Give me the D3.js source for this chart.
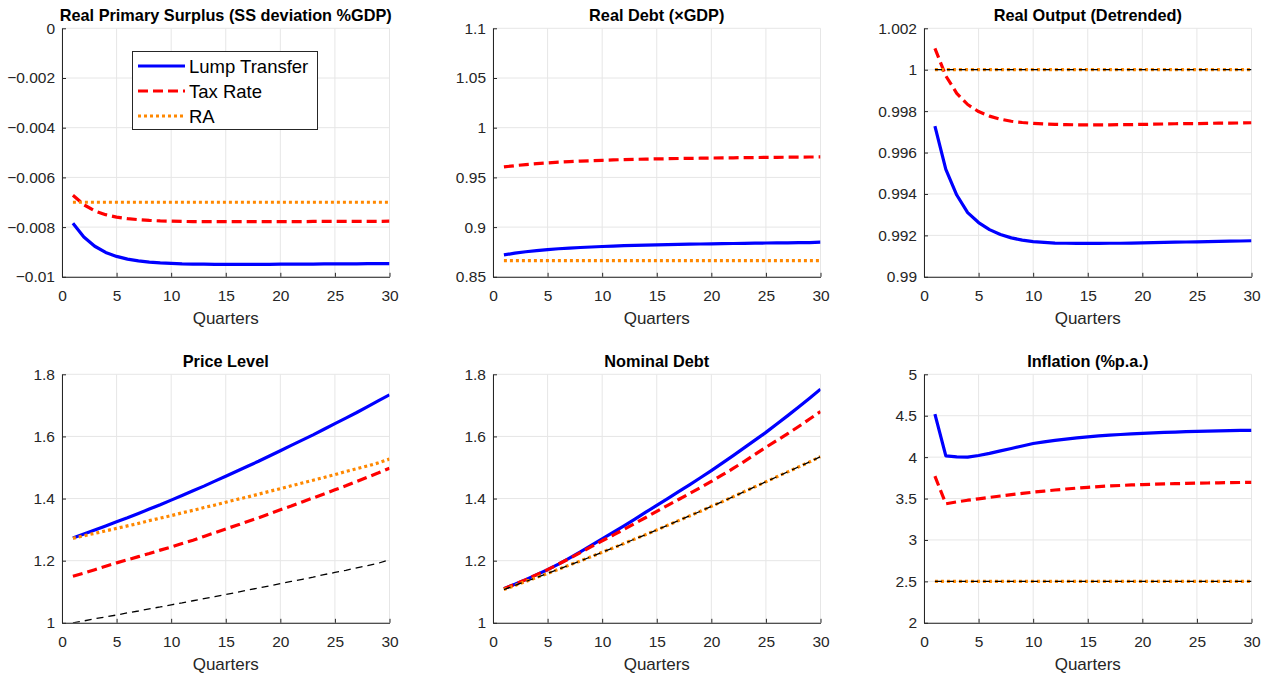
<!DOCTYPE html>
<html><head><meta charset="utf-8">
<script src="https://cdn.jsdelivr.net/npm/d3@7"></script>
<style>
body{margin:0;background:#fff}
svg{display:block}
text{font-family:"Liberation Sans",Arial,Helvetica,sans-serif}
</style>
</head><body>
<svg id="chart" width="1271" height="677"></svg>
<script>
// ---------- DATA ----------
const quarters = [1,2,3,4,5,6,7,8,9,10,11,12,13,14,15,16,17,18,19,20,21,22,23,24,25,26,27,28,29,30];
const xTicks = [0,5,10,15,20,25,30];

// Real Primary Surplus (SS deviation %GDP)
const surplusLump = [-0.00785,-0.00840,-0.00877,-0.00902,-0.00918,-0.00929,-0.00936,-0.00941,-0.00944,-0.00946,-0.00948,-0.00949,-0.00949,-0.00950,-0.00950,-0.00950,-0.00950,-0.00950,-0.00950,-0.00949,-0.00949,-0.00949,-0.00949,-0.00948,-0.00948,-0.00948,-0.00948,-0.00947,-0.00947,-0.00947];
const surplusTax = [-0.00672,-0.00710,-0.00735,-0.00750,-0.00760,-0.00766,-0.00770,-0.00773,-0.00775,-0.00776,-0.00777,-0.00778,-0.00778,-0.00778,-0.00778,-0.00778,-0.00778,-0.00778,-0.00778,-0.00778,-0.00778,-0.00778,-0.00777,-0.00777,-0.00777,-0.00777,-0.00777,-0.00777,-0.00777,-0.00776];
const surplusRA = [-0.007,-0.007,-0.007,-0.007,-0.007,-0.007,-0.007,-0.007,-0.007,-0.007,-0.007,-0.007,-0.007,-0.007,-0.007,-0.007,-0.007,-0.007,-0.007,-0.007,-0.007,-0.007,-0.007,-0.007,-0.007,-0.007,-0.007,-0.007,-0.007,-0.007];
const surplusTicks = [-0.01,-0.008,-0.006,-0.004,-0.002,0];
const surplusTickLabels = ["\u22120.01","\u22120.008","\u22120.006","\u22120.004","\u22120.002","0"];

// Real Debt (xGDP)
const debtLump = [0.8720,0.8738,0.8752,0.8764,0.8774,0.8782,0.8789,0.8795,0.8800,0.8805,0.8809,0.8813,0.8816,0.8819,0.8822,0.8824,0.8826,0.8828,0.8830,0.8832,0.8834,0.8835,0.8837,0.8838,0.8840,0.8841,0.8842,0.8843,0.8844,0.8848];
const debtTax = [0.9605,0.9618,0.9629,0.9638,0.9646,0.9653,0.9659,0.9664,0.9668,0.9672,0.9676,0.9679,0.9682,0.9684,0.9686,0.9688,0.9690,0.9692,0.9693,0.9695,0.9696,0.9697,0.9699,0.9700,0.9701,0.9702,0.9703,0.9704,0.9705,0.9706];
const debtRA = [0.8662,0.8662,0.8662,0.8662,0.8662,0.8662,0.8662,0.8662,0.8662,0.8662,0.8662,0.8662,0.8662,0.8662,0.8662,0.8662,0.8662,0.8662,0.8662,0.8662,0.8662,0.8662,0.8662,0.8662,0.8662,0.8662,0.8662,0.8662,0.8662,0.8662];
const debtTicks = [0.85,0.9,0.95,1,1.05,1.1];
const debtTickLabels = ["0.85","0.9","0.95","1","1.05","1.1"];

// Real Output (Detrended)
const outputLump = [0.99728,0.99519,0.99395,0.99310,0.99262,0.99228,0.99204,0.99188,0.99177,0.99170,0.99166,0.99163,0.99162,0.99161,0.99161,0.99161,0.99162,0.99162,0.99163,0.99164,0.99165,0.99166,0.99167,0.99168,0.99169,0.99170,0.99171,0.99172,0.99173,0.99174];
const outputTax = [1.00103,0.99970,0.99886,0.99832,0.99798,0.99776,0.99761,0.99751,0.99745,0.99741,0.99738,0.99736,0.99735,0.99734,0.99734,0.99734,0.99734,0.99735,0.99735,0.99736,0.99737,0.99738,0.99739,0.99740,0.99740,0.99741,0.99742,0.99742,0.99743,0.99744];
const outputRA = [1,1,1,1,1,1,1,1,1,1,1,1,1,1,1,1,1,1,1,1,1,1,1,1,1,1,1,1,1,1];
const outputSS = [1,1,1,1,1,1,1,1,1,1,1,1,1,1,1,1,1,1,1,1,1,1,1,1,1,1,1,1,1,1];
const outputTicks = [0.99,0.992,0.994,0.996,0.998,1,1.002];
const outputTickLabels = ["0.99","0.992","0.994","0.996","0.998","1","1.002"];

// Price Level
const priceLump = [1.273,1.286,1.299,1.312,1.325,1.338,1.352,1.366,1.380,1.395,1.410,1.425,1.440,1.456,1.472,1.488,1.504,1.520,1.537,1.554,1.571,1.588,1.605,1.623,1.641,1.659,1.677,1.696,1.715,1.734];
const priceTax = [1.150,1.160,1.171,1.182,1.193,1.203,1.213,1.223,1.234,1.244,1.255,1.266,1.278,1.290,1.302,1.314,1.326,1.338,1.351,1.364,1.376,1.389,1.402,1.415,1.428,1.441,1.455,1.469,1.483,1.498];
const priceRA = [1.272,1.280,1.288,1.296,1.304,1.312,1.320,1.329,1.337,1.345,1.354,1.362,1.371,1.379,1.388,1.397,1.405,1.414,1.423,1.432,1.441,1.450,1.459,1.468,1.477,1.487,1.496,1.505,1.515,1.527];
const priceSS = [1.000,1.006,1.013,1.019,1.025,1.032,1.038,1.045,1.051,1.058,1.064,1.071,1.078,1.084,1.091,1.098,1.105,1.112,1.119,1.126,1.133,1.140,1.147,1.155,1.162,1.169,1.177,1.184,1.192,1.203];
const priceTicks = [1,1.2,1.4,1.6,1.8];
const priceTickLabels = ["1","1.2","1.4","1.6","1.8"];

// Nominal Debt
const nomLump = [1.110,1.124,1.139,1.155,1.171,1.189,1.208,1.228,1.249,1.270,1.291,1.312,1.334,1.356,1.378,1.400,1.422,1.444,1.467,1.490,1.514,1.538,1.563,1.588,1.613,1.640,1.667,1.695,1.723,1.752];
const nomTax = [1.110,1.124,1.139,1.155,1.171,1.189,1.207,1.226,1.245,1.264,1.282,1.301,1.320,1.339,1.359,1.378,1.397,1.416,1.435,1.455,1.476,1.497,1.519,1.542,1.565,1.587,1.609,1.632,1.656,1.680];
const nomRA = [1.107,1.120,1.133,1.146,1.159,1.172,1.186,1.199,1.213,1.227,1.241,1.255,1.270,1.284,1.299,1.314,1.329,1.344,1.359,1.375,1.390,1.406,1.422,1.438,1.454,1.470,1.486,1.502,1.518,1.535];
const nomSS = [1.107,1.120,1.133,1.146,1.159,1.172,1.186,1.199,1.213,1.227,1.241,1.255,1.270,1.284,1.299,1.314,1.329,1.344,1.359,1.375,1.390,1.406,1.422,1.438,1.454,1.470,1.486,1.502,1.518,1.535];
const nomTicks = [1,1.2,1.4,1.6,1.8];
const nomTickLabels = ["1","1.2","1.4","1.6","1.8"];

// Inflation (%p.a.)
const inflLump = [4.52,4.015,4.003,4.000,4.020,4.045,4.075,4.105,4.135,4.165,4.185,4.203,4.218,4.232,4.245,4.256,4.265,4.273,4.280,4.287,4.293,4.298,4.303,4.307,4.311,4.314,4.317,4.320,4.322,4.324];
const inflTax = [3.77,3.437,3.460,3.480,3.497,3.514,3.531,3.547,3.562,3.577,3.590,3.603,3.615,3.626,3.636,3.645,3.652,3.658,3.664,3.669,3.673,3.677,3.680,3.683,3.686,3.688,3.690,3.692,3.694,3.695];
const inflRA = [2.5,2.5,2.5,2.5,2.5,2.5,2.5,2.5,2.5,2.5,2.5,2.5,2.5,2.5,2.5,2.5,2.5,2.5,2.5,2.5,2.5,2.5,2.5,2.5,2.5,2.5,2.5,2.5,2.5,2.5];
const inflSS = [2.5,2.5,2.5,2.5,2.5,2.5,2.5,2.5,2.5,2.5,2.5,2.5,2.5,2.5,2.5,2.5,2.5,2.5,2.5,2.5,2.5,2.5,2.5,2.5,2.5,2.5,2.5,2.5,2.5,2.5];
const inflTicks = [2,2.5,3,3.5,4,4.5,5];
const inflTickLabels = ["2","2.5","3","3.5","4","4.5","5"];

const legendLabels = ["Lump Transfer","Tax Rate","RA"];
const xLabel = "Quarters";

// ---------- STYLES ----------
const styles = {
  lump: {stroke:"#0000ff", width:3.2, dash:null},
  tax:  {stroke:"#ff0000", width:3.2, dash:"10,5"},
  ra:   {stroke:"#ff8800", width:3.2, dash:"3,3"},
  ss:   {stroke:"#000000", width:1.3, dash:"7,5"}
};

const panels = [
  {title:"Real Primary Surplus (SS deviation %GDP)", col:0,row:0, dom:[-0.01,0], ticks:surplusTicks, labels:surplusTickLabels,
   series:[["lump",surplusLump],["tax",surplusTax],["ra",surplusRA]], legend:true},
  {title:"Real Debt (\u00d7GDP)", col:1,row:0, dom:[0.85,1.1], ticks:debtTicks, labels:debtTickLabels,
   series:[["lump",debtLump],["tax",debtTax],["ra",debtRA]]},
  {title:"Real Output (Detrended)", col:2,row:0, dom:[0.99,1.002], ticks:outputTicks, labels:outputTickLabels,
   series:[["lump",outputLump],["tax",outputTax],["ra",outputRA],["ss",outputSS]]},
  {title:"Price Level", col:0,row:1, dom:[1,1.8], ticks:priceTicks, labels:priceTickLabels,
   series:[["lump",priceLump],["tax",priceTax],["ra",priceRA],["ss",priceSS]]},
  {title:"Nominal Debt", col:1,row:1, dom:[1,1.8], ticks:nomTicks, labels:nomTickLabels,
   series:[["lump",nomLump],["tax",nomTax],["ra",nomRA],["ss",nomSS]]},
  {title:"Inflation (%p.a.)", col:2,row:1, dom:[2,5], ticks:inflTicks, labels:inflTickLabels,
   series:[["lump",inflLump],["tax",inflTax],["ra",inflRA],["ss",inflSS]]}
];

// ---------- LAYOUT ----------
const colLeft = [62, 493, 924];
const rowTop = [28.3, 374.3];
const pw = 327.5, ph = 248.5;
const axisColor = "#262626";
const gridColor = "#e6e6e6";

const svg = d3.select("#chart");

panels.forEach((p, i) => {
  const g = svg.append("g").attr("transform", `translate(${colLeft[p.col]},${rowTop[p.row]})`);
  const x = d3.scaleLinear().domain([0,30]).range([0,pw]);
  const y = d3.scaleLinear().domain(p.dom).range([ph,0]);

  // grid
  g.append("g").selectAll("line").data(xTicks).join("line")
    .attr("x1",d=>x(d)).attr("x2",d=>x(d)).attr("y1",0).attr("y2",ph)
    .attr("stroke",gridColor).attr("stroke-width",1);
  g.append("g").selectAll("line").data(p.ticks).join("line")
    .attr("x1",0).attr("x2",pw).attr("y1",d=>y(d)).attr("y2",d=>y(d))
    .attr("stroke",gridColor).attr("stroke-width",1);

  // clip
  const cid = "clip"+i;
  g.append("clipPath").attr("id",cid).append("rect").attr("x",0).attr("y",0).attr("width",pw).attr("height",ph);

  const line = d3.line().x((d,j)=>x(quarters[j])).y(d=>y(d));
  const lg = g.append("g").attr("clip-path",`url(#${cid})`);
  p.series.forEach(([key, vals]) => {
    const s = styles[key];
    lg.append("path").datum(vals).attr("d", line)
      .attr("fill","none").attr("stroke",s.stroke).attr("stroke-width",s.width)
      .attr("stroke-dasharray",s.dash).attr("stroke-linejoin","round");
  });

  // axes
  const xa = d3.axisBottom(x).tickValues(xTicks).tickFormat(d3.format("d")).tickSizeInner(-4).tickSizeOuter(0).tickPadding(13);
  const gx = g.append("g").attr("transform",`translate(0,${ph})`).call(xa);
  const ya = d3.axisLeft(y).tickValues(p.ticks).tickFormat((d,j)=>p.labels[j]).tickSizeInner(-4).tickSizeOuter(0).tickPadding(7);
  const gy = g.append("g").call(ya);
  [gx,gy].forEach(a=>{
    a.select(".domain").attr("stroke",axisColor).attr("stroke-width",1);
    a.selectAll(".tick line").attr("stroke",axisColor);
    a.selectAll(".tick text").attr("fill",axisColor).attr("font-size",15.5)
      .attr("font-family","'Liberation Sans',Arial,sans-serif");
  });

  // title
  g.append("text").attr("x",pw/2).attr("y",-7).attr("text-anchor","middle")
    .attr("font-size",16.3).attr("font-weight","bold").attr("fill","#000").text(p.title);
  // xlabel
  g.append("text").attr("x",pw/2).attr("y",ph+47).attr("text-anchor","middle")
    .attr("font-size",17).attr("fill",axisColor).text(xLabel);

  if (p.legend) {
    const lgd = svg.append("g");
    lgd.append("rect").attr("x",132.5).attr("y",51.5).attr("width",185).attr("height",78)
      .attr("fill","#fff").attr("stroke",axisColor).attr("stroke-width",1);
    const keys = ["lump","tax","ra"];
    keys.forEach((k,j)=>{
      const yy = 66 + j*25;
      const s = styles[k];
      lgd.append("line").attr("x1",138).attr("x2",185).attr("y1",yy).attr("y2",yy)
        .attr("stroke",s.stroke).attr("stroke-width",s.width).attr("stroke-dasharray",s.dash);
      lgd.append("text").attr("x",189).attr("y",yy+6.5).attr("font-size",18.5).attr("fill","#000").text(legendLabels[j]);
    });
  }
});
</script>
</body></html>
